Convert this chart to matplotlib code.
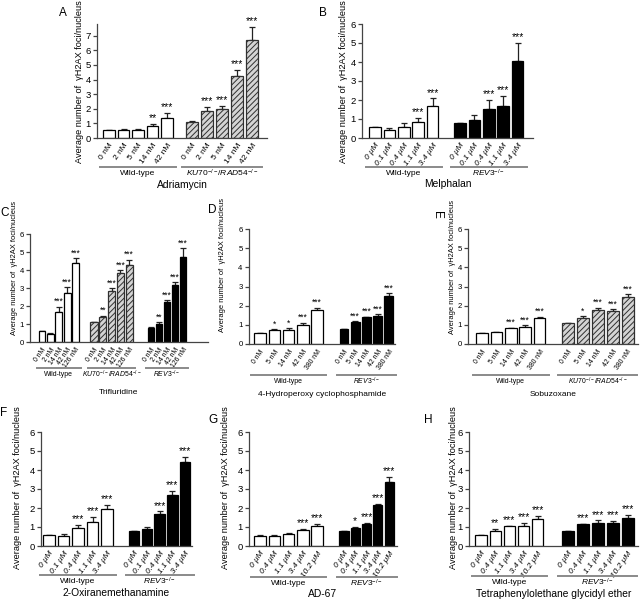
import numpy as np
import matplotlib.pyplot as plt
import matplotlib.transforms as mtransforms

plt.rcParams['font.family'] = ['Liberation Sans', 'DejaVu Sans']
plt.rcParams['mathtext.fontset'] = 'custom'
plt.rcParams['mathtext.rm'] = 'Liberation Sans'
plt.rcParams['mathtext.it'] = 'Liberation Sans:italic'
plt.rcParams['hatch.linewidth'] = 0.7

# ---- tick labels / group names ----
nm_A = ['0 nM', '2 nM', '5 nM', '14 nM', '42 nM']
um_B = ['0 μM', '0.1 μM', '0.4 μM', '1.1 μM', '3.4 μM']
nm_C = ['0 nM', '2 nM', '14 nM', '42 nM', '126 nM']
nm_DE = ['0 nM', '5 nM', '14 nM', '42 nM', '380 nM']
um_GH = ['0 μM', '0.4 μM', '1.1 μM', '3.4 μM', '10.2 μM']

WT = 'Wild-type'
KU = r'$\it{KU70}^{-/-}\it{/RAD54}^{-/-}$'
REV = r'$\it{REV3}^{-/-}$'
ylab = 'Average number of  γH2AX foci/nucleus'

# ---- values (mean, upper error, significance) ----
A_wt = [0.56, 0.56, 0.52, 0.84, 1.39]
A_wt_err = [0.02, 0.06, 0.13, 0.13, 0.33]
A_wt_sig = ['', '', '', '**', '***']
A_ku = [1.10, 1.87, 1.98, 4.24, 6.72]
A_ku_err = [0.04, 0.25, 0.22, 0.43, 0.86]
A_ku_sig = ['', '***', '***', '***', '***']

B_wt = [0.56, 0.44, 0.56, 0.84, 1.67]
B_wt_err = [0.02, 0.11, 0.24, 0.21, 0.41]
B_wt_sig = ['', '', '', '***', '***']
B_rev = [0.79, 0.96, 1.53, 1.70, 4.03]
B_rev_err = [0.02, 0.25, 0.47, 0.50, 0.97]
B_rev_sig = ['', '', '***', '***', '***']

C_wt = [0.59, 0.44, 1.67, 2.72, 4.37]
C_wt_err = [0.02, 0.06, 0.28, 0.31, 0.28]
C_wt_sig = ['', '', '***', '***', '***']
C_ku = [1.10, 1.39, 2.83, 3.83, 4.30]
C_ku_err = [0.03, 0.06, 0.15, 0.15, 0.28]
C_ku_sig = ['', '**', '***', '***', '***']
C_rev = [0.80, 1.02, 2.22, 3.19, 4.72]
C_rev_err = [0.02, 0.08, 0.11, 0.14, 0.50]
C_rev_sig = ['', '**', '***', '***', '***']

D_wt = [0.56, 0.73, 0.73, 0.99, 1.80]
D_wt_err = [0.02, 0.04, 0.10, 0.11, 0.10]
D_wt_sig = ['', '*', '*', '***', '***']
D_rev = [0.78, 1.13, 1.39, 1.46, 2.52]
D_rev_err = [0.02, 0.05, 0.03, 0.09, 0.13]
D_rev_sig = ['', '***', '***', '***', '***']

E_wt = [0.56, 0.61, 0.83, 0.90, 1.34]
E_wt_err = [0.02, 0.04, 0.03, 0.07, 0.08]
E_wt_sig = ['', '', '***', '***', '***']
E_ku = [1.08, 1.36, 1.78, 1.72, 2.43]
E_ku_err = [0.04, 0.09, 0.12, 0.10, 0.17]
E_ku_sig = ['', '*', '***', '***', '***']

F_wt = [0.56, 0.53, 0.95, 1.26, 1.96]
F_wt_err = [0.02, 0.09, 0.17, 0.26, 0.22]
F_wt_sig = ['', '', '***', '***', '***']
F_rev = [0.79, 0.89, 1.67, 2.67, 4.42]
F_rev_err = [0.02, 0.11, 0.15, 0.23, 0.28]
F_rev_sig = ['', '', '***', '***', '***']

G_wt = [0.54, 0.51, 0.65, 0.84, 1.07]
G_wt_err = [0.03, 0.07, 0.05, 0.06, 0.10]
G_wt_sig = ['', '', '', '***', '***']
G_rev = [0.77, 0.96, 1.18, 2.14, 3.35]
G_rev_err = [0.02, 0.04, 0.05, 0.08, 0.27]
G_rev_sig = ['', '*', '***', '***', '***']

H_wt = [0.56, 0.79, 1.03, 1.07, 1.42]
H_wt_err = [0.02, 0.13, 0.04, 0.13, 0.15]
H_wt_sig = ['', '**', '***', '***', '***']
H_rev = [0.77, 1.14, 1.23, 1.23, 1.47]
H_rev_err = [0.02, 0.03, 0.12, 0.09, 0.15]
H_rev_sig = ['', '***', '***', '***', '***']

styles = {
    'wt': dict(color='white', edgecolor='black'),
    'ku': dict(color='#d4d4d4', edgecolor='#303030', hatch='//////'),
    'rev': dict(color='black', edgecolor='black'),
}

W, H = 640, 601
fig = plt.figure(figsize=(6.4, 6.01), dpi=100)


def panel(box, ymax, yticks, groups, ticks, drug, letter, lpos, ylpos,
          line_dy=30, drug_dy=47, fs=1.0, italic=False, letter_rot=0):
    left, right, y0, top = box
    ax = fig.add_axes([left / W, 1 - y0 / H, (right - left) / W, (y0 - top) / H])
    centers, labels = [], []
    for vals, errs, sigs, st, start, pitch, gname in groups:
        x = start + pitch * np.arange(len(vals))
        ax.bar(x, vals, width=0.8 * pitch, linewidth=0.9, zorder=2, **styles[st])
        ax.errorbar(x, vals, yerr=[np.zeros(len(vals)), errs], fmt='none',
                    ecolor='#222222', elinewidth=0.9, capsize=2.5 * fs,
                    capthick=0.9, zorder=1)
        for xi, v, e, s in zip(x, vals, errs, sigs):
            if s:
                ax.annotate(s, (xi, v + e), xytext=(0, 0.5), textcoords='offset points',
                            ha='center', va='bottom', fontsize=7.5 * fs)
        centers += list(x)
        labels += ticks
        # group underline and genotype name
        tr = mtransforms.blended_transform_factory(ax.transData, ax.transAxes)
        off = mtransforms.ScaledTranslation(0, -line_dy / 100, fig.dpi_scale_trans)
        ax.plot([x[0] - 0.65 * pitch, x[-1] + 0.65 * pitch], [0, 0],
                transform=tr + off, color='#8a8a8a', lw=1.4, clip_on=False)
        off2 = mtransforms.ScaledTranslation(0, -(line_dy + 6.5) / 100, fig.dpi_scale_trans)
        ax.text((x[0] + x[-1]) / 2, 0, gname, transform=tr + off2,
                ha='center', va='center', fontsize=6 * fs)
    ax.set_xlim(left, right)
    ax.set_ylim(0, ymax)
    ax.set_yticks(yticks)
    ax.set_xticks(centers)
    ax.set_xticklabels(labels, rotation=55, ha='right', rotation_mode='anchor',
                       fontsize=6 * fs, style='italic' if italic else 'normal')
    ax.tick_params(axis='x', length=0, pad=3)
    ax.tick_params(axis='y', length=3, width=0.9, color='#444444', labelsize=6.8 * fs, pad=1.5)
    for s in ['top', 'right']:
        ax.spines[s].set_visible(False)
    for s in ['left', 'bottom']:
        ax.spines[s].set_color('#444444')
        ax.spines[s].set_linewidth(0.9)
    # drug name
    off3 = mtransforms.ScaledTranslation(0, -drug_dy / 100, fig.dpi_scale_trans)
    ax.text(0.5, 0, drug, transform=ax.transAxes + off3, ha='center', va='center',
            fontsize=7.4 * fs)
    fig.text(lpos[0] / W, 1 - lpos[1] / H, letter, fontsize=8.5, ha='center', va='center',
             rotation=letter_rot)
    fig.text(ylpos[0] / W, 1 - ylpos[1] / H, ylab, rotation=90, ha='center', va='center',
             fontsize=6.6 * fs)
    return ax


panel((97, 267, 138, 24), 7.8, range(8),
      [(A_wt, A_wt_err, A_wt_sig, 'wt', 109, 14.5, WT),
       (A_ku, A_ku_err, A_ku_sig, 'ku', 192, 15.0, KU)],
      nm_A, 'Adriamycin', 'A', (63, 13), (79, 82), line_dy=29, drug_dy=47)

panel((362, 533, 138, 24), 6, range(7),
      [(B_wt, B_wt_err, B_wt_sig, 'wt', 375, 14.4, WT),
       (B_rev, B_rev_err, B_rev_sig, 'rev', 460, 14.4, REV)],
      um_B, 'Melphalan', 'B', (323, 13), (343, 82), line_dy=29, drug_dy=46, italic=True)

panel((30, 208, 342, 234), 6, range(7),
      [(C_wt, C_wt_err, C_wt_sig, 'wt', 42, 8.4, WT),
       (C_ku, C_ku_err, C_ku_sig, 'ku', 94, 8.8, KU),
       (C_rev, C_rev_err, C_rev_sig, 'rev', 151, 8.0, REV)],
      nm_C, 'Trifluridine', 'C', (5, 213), (15, 268), line_dy=26, drug_dy=50, fs=0.82)

panel((249, 395, 344, 229), 6, range(7),
      [(D_wt, D_wt_err, D_wt_sig, 'wt', 260, 14.3, WT),
       (D_rev, D_rev_err, D_rev_sig, 'rev', 344, 11.2, REV)],
      nm_DE, '4-Hydroperoxy cyclophosphamide', 'D', (212, 210), (223, 265),
      line_dy=31, drug_dy=51, fs=0.82)

panel((468, 638, 344, 229), 6, range(7),
      [(E_wt, E_wt_err, E_wt_sig, 'wt', 482, 14.4, WT),
       (E_ku, E_ku_err, E_ku_sig, 'ku', 567.5, 15.0, KU)],
      nm_DE, 'Sobuzoxane', 'E', (437, 215), (453, 267),
      line_dy=31, drug_dy=51, fs=0.82, letter_rot=-90)

panel((41, 192, 546, 432), 6, range(7),
      [(F_wt, F_wt_err, F_wt_sig, 'wt', 49, 14.5, WT),
       (F_rev, F_rev_err, F_rev_sig, 'rev', 134, 12.8, REV)],
      um_B, '2-Oxiranemethanamine', 'F', (4, 413), (18, 488), line_dy=29, drug_dy=47,
      italic=True)

panel((249, 397, 546, 432), 6, range(7),
      [(G_wt, G_wt_err, G_wt_sig, 'wt', 260, 14.3, WT),
       (G_rev, G_rev_err, G_rev_sig, 'rev', 344, 11.3, REV)],
      um_GH, 'AD-67', 'G', (213, 420), (225, 488), line_dy=31, drug_dy=48, italic=True)

panel((469, 638, 546, 432), 6, range(7),
      [(H_wt, H_wt_err, H_wt_sig, 'wt', 481, 14.2, WT),
       (H_rev, H_rev_err, H_rev_sig, 'rev', 567.5, 15.0, REV)],
      um_GH, 'Tetraphenylolethane glycidyl ether', 'H', (428, 420), (453, 488),
      line_dy=30, drug_dy=48, italic=True)

fig.savefig('out.png', dpi=100)
